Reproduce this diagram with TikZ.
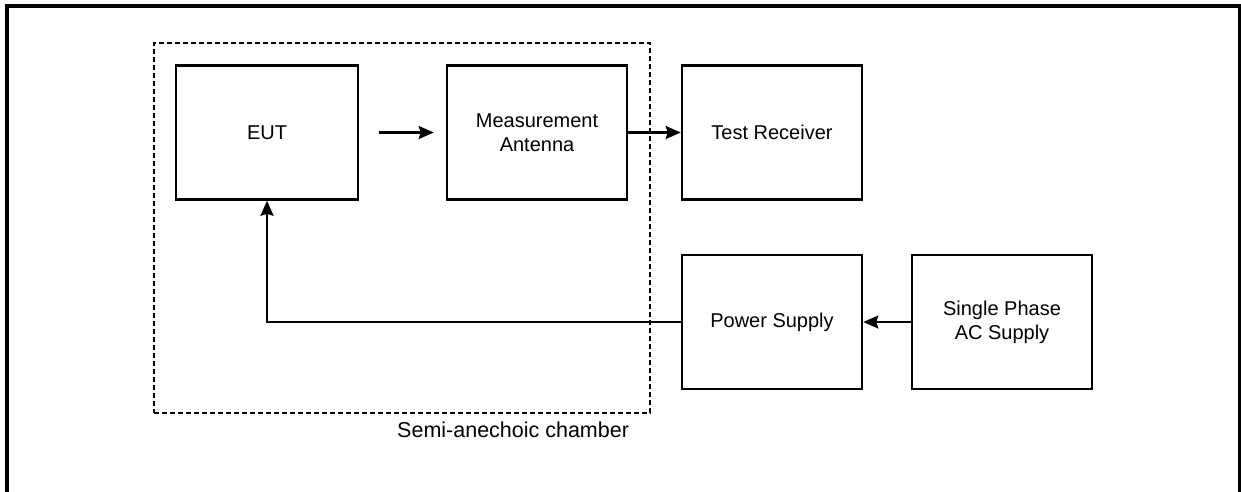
\documentclass[tikz,border=0pt]{standalone}
\usepackage{fontspec}
\setmainfont{Liberation Sans}
\usetikzlibrary{arrows.meta,calc}
\begin{document}
\begin{tikzpicture}[x=1pt,y=-1pt,
  blk/.style={draw,line width=2.6pt,minimum width=180pt,minimum height=134pt,inner sep=0pt,align=center,font=\fontsize{20}{24}\selectfont},
  conn/.style={line width=2.4pt,-{Stealth[length=15pt,width=13pt,inset=2pt]}},
  chamberbox/.style={draw,line width=2.6pt,dash pattern=on 5pt off 3pt,minimum width=496pt,minimum height=370pt,inner sep=0pt}]
\useasboundingbox (0,0) rectangle (1241,492);
\draw[line width=4pt] (7,492) -- (7,6) -- (1240,6) -- (1240,492);
\node[chamberbox] (chamber) at (402,228) {};
\node[blk,minimum width=182pt] (eut) at (267,132.5) {EUT};
\node[blk] (ant) at (537,132.5) {Measurement\\Antenna};
\node[blk] (rx) at (772,132.5) {Test Receiver};
\node[blk] (ps) at (772,322) {Power Supply};
\node[blk] (sp) at (1002,322) {Single Phase\\AC Supply};
\node[anchor=base west,inner sep=0pt,font=\fontsize{21.5}{25}\selectfont] (lbl) at (397,437) {Semi-anechoic chamber};
\coordinate (a1) at ($(eut.east)+(20,0)$);
\coordinate (a2) at ($(ant.west)+(-12,0)$);
\draw[conn] (a1) -- (a2);
\draw[conn] (ant.east) -- (rx.west);
\draw[conn] (ps.west) -| (eut.south);
\draw[conn] (sp.west) -- (ps.east);
\end{tikzpicture}
\end{document}
